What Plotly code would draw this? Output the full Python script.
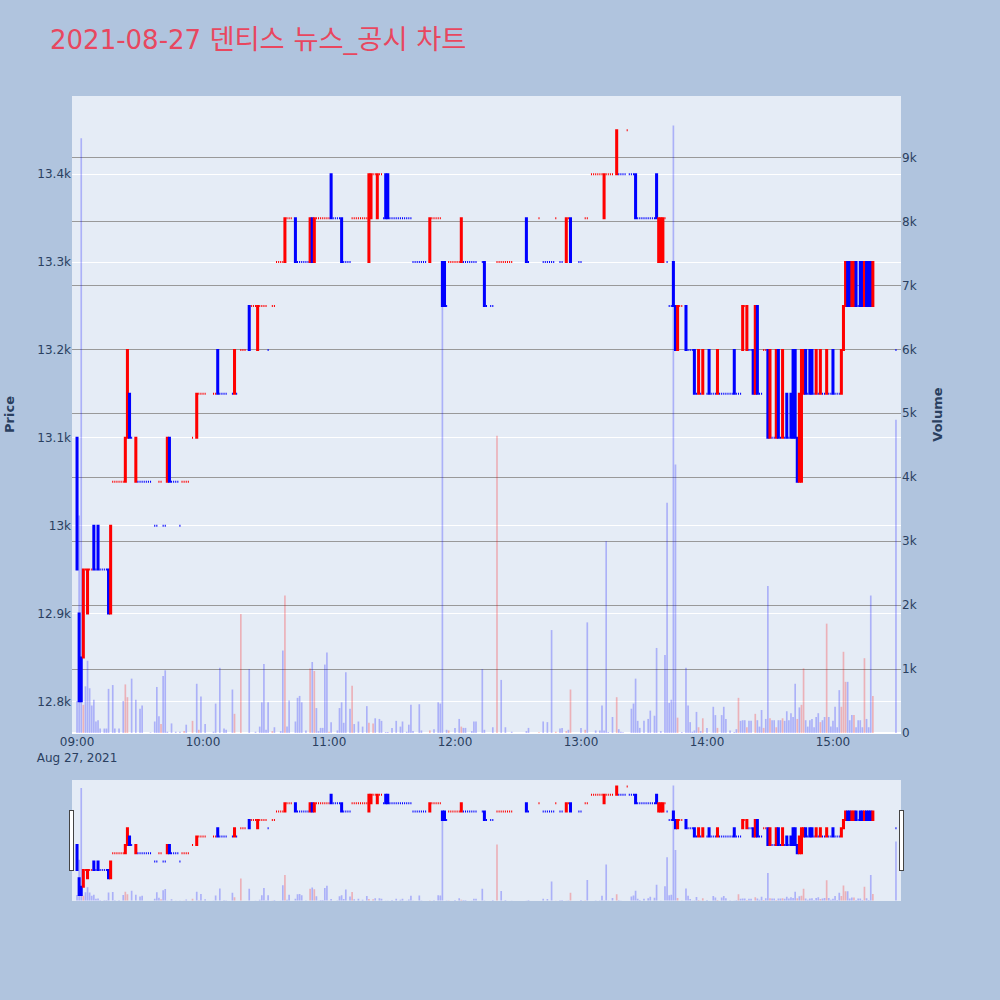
import pandas as pd
import plotly.graph_objects as go
from plotly.subplots import make_subplots

title_date = "2021-08-27"
title_name = "덴티스 뉴스_공시 차트"
session_start = "2021-08-27 09:00"
N = None

# one entry per minute from 09:00 to 15:30 (None = no trade)
open_prices = [
    13100, 12900, 12850, 12850, 12950, 12900, 12950, 12950, 13000, 12950,
    13000, 12950, 12950, 12950, 12950, 12950, 12900, 13050, 13050, 13050,
    13050, 13050, 13050, 13050, 13100, 13150, 13100, N, 13050, 13050,
    13050, 13050, 13050, 13050, 13050, 13050, N, 13000, 13000, 13050,
    13050, 13000, 13000, 13050, 13100, 13050, 13050, 13050, 13050, 13000,
    13050, 13050, 13050, 13050, N, 13100, N, 13100, 13150, 13150,
    13150, 13150, N, N, N, 13150, 13150, 13200, 13150, 13150,
    13150, 13150, N, N, 13150, 13150, 13150, N, 13200, 13200,
    13200, N, 13250, 13250, 13250, 13250, 13200, 13250, 13250, 13250,
    13250, 13200, N, 13250, 13250, 13300, 13300, 13300, 13300, 13300,
    13350, 13350, 13350, N, 13350, 13300, 13300, 13300, 13300, 13300,
    13300, 13300, 13350, 13300, 13350, 13350, 13350, 13350, 13350, 13350,
    13350, 13400, 13350, 13350, 13350, 13350, 13350, 13300, 13300, 13300,
    13300, 13350, 13350, 13350, 13350, 13350, 13350, 13350, 13350, 13300,
    13350, 13400, 13400, 13350, 13400, 13400, 13350, 13400, 13400, 13350,
    13350, 13350, 13350, 13350, 13350, 13350, 13350, 13350, 13350, 13350,
    13300, 13300, 13300, 13300, 13300, 13300, 13300, N, 13300, 13350,
    13350, 13350, 13350, 13350, 13300, 13300, 13250, 13300, 13300, 13300,
    13300, 13300, 13300, 13300, 13300, 13300, 13300, 13300, 13300, 13300,
    13300, N, N, 13300, 13300, 13250, N, 13250, 13250, N,
    13300, 13300, 13300, 13300, 13300, 13300, 13300, 13300, N, N,
    N, N, N, N, 13350, 13300, N, N, N, N,
    13350, N, 13300, 13300, 13300, 13300, 13300, 13300, 13350, N,
    13300, 13300, N, 13300, 13350, 13350, N, N, N, 13300,
    13300, N, 13350, 13350, N, 13400, 13400, 13400, 13400, 13400,
    13400, 13350, 13400, 13400, 13400, 13400, N, 13400, 13400, 13400,
    13400, 13400, 13450, 13400, 13400, 13400, 13400, 13350, 13350, 13350,
    13350, 13350, 13350, 13350, 13350, 13350, 13400, 13300, 13300, 13300,
    13350, 13300, 13250, 13250, 13300, 13250, 13200, 13250, 13250, N,
    13250, 13200, 13200, 13200, 13200, 13150, 13150, 13150, 13150, N,
    13150, 13200, 13150, 13150, 13150, 13150, 13150, 13150, 13150, 13150,
    13150, 13150, 13150, 13200, 13150, 13150, 13150, 13200, 13250, 13200,
    13200, 13200, 13200, 13150, 13250, 13150, 13150, 13200, 13200, 13200,
    13100, 13100, 13100, 13100, 13200, 13100, 13100, 13100, 13150, 13100,
    13150, 13200, 13200, 13100, 13050, 13050, 13150, 13200, 13150, 13200,
    13200, 13150, 13150, 13150, 13150, 13150, 13150, 13150, 13150, 13150,
    13200, 13150, 13150, 13150, 13150, 13200, 13250, 13300, 13300, 13250,
    13250, 13300, 13250, 13300, 13300, 13250, 13300, 13300, 13300, 13250,
    N, N, N, N, N, N, N, N, N, N,
    13200,
]

close_prices = [
    12950, 12800, 12800, 12950, 12950, 12950, 12950, 12950, 12950, 12950,
    12950, 12950, 12950, 12950, 12950, 12900, 13000, 13050, 13050, 13050,
    13050, 13050, 13050, 13100, 13200, 13100, 13100, N, 13100, 13050,
    13050, 13050, 13050, 13050, 13050, 13050, N, 13000, 13000, 13050,
    13050, 13000, 13000, 13100, 13050, 13050, 13050, 13050, 13050, 13000,
    13050, 13050, 13050, 13050, N, 13100, N, 13150, 13150, 13150,
    13150, 13150, N, N, N, 13150, 13150, 13150, 13150, 13150,
    13150, 13150, N, N, 13150, 13200, 13150, N, 13200, 13200,
    13200, N, 13200, 13250, 13250, 13250, 13250, 13250, 13250, 13250,
    13250, 13200, N, 13250, 13250, 13300, 13300, 13300, 13300, 13350,
    13350, 13350, 13350, N, 13300, 13300, 13300, 13300, 13300, 13300,
    13300, 13350, 13300, 13350, 13350, 13350, 13350, 13350, 13350, 13350,
    13350, 13350, 13350, 13350, 13350, 13350, 13300, 13300, 13300, 13300,
    13300, 13350, 13350, 13350, 13350, 13350, 13350, 13350, 13350, 13400,
    13400, 13400, 13400, 13400, 13400, 13400, 13350, 13350, 13350, 13350,
    13350, 13350, 13350, 13350, 13350, 13350, 13350, 13350, 13350, 13350,
    13300, 13300, 13300, 13300, 13300, 13300, 13300, N, 13350, 13350,
    13350, 13350, 13350, 13350, 13250, 13250, 13250, 13300, 13300, 13300,
    13300, 13300, 13300, 13350, 13300, 13300, 13300, 13300, 13300, 13300,
    13300, N, N, 13300, 13250, 13250, N, 13250, 13250, N,
    13300, 13300, 13300, 13300, 13300, 13300, 13300, 13300, N, N,
    N, N, N, N, 13300, 13300, N, N, N, N,
    13350, N, 13300, 13300, 13300, 13300, 13300, 13300, 13350, N,
    13300, 13300, N, 13350, 13350, 13300, N, N, N, 13300,
    13300, N, 13350, 13350, N, 13400, 13400, 13400, 13400, 13400,
    13400, 13400, 13400, 13400, 13400, 13400, N, 13450, 13400, 13400,
    13400, 13400, 13450, 13400, 13400, 13400, 13350, 13350, 13350, 13350,
    13350, 13350, 13350, 13350, 13350, 13350, 13350, 13350, 13350, 13350,
    13350, 13300, 13250, 13250, 13250, 13200, 13250, 13250, 13250, N,
    13200, 13200, 13200, 13200, 13150, 13150, 13200, 13150, 13200, N,
    13150, 13150, 13150, 13150, 13150, 13200, 13150, 13150, 13150, 13150,
    13150, 13150, 13150, 13150, 13150, 13150, 13150, 13250, 13250, 13250,
    13200, 13200, 13150, 13250, 13150, 13150, 13150, 13200, 13200, 13100,
    13200, 13100, 13100, 13200, 13100, 13100, 13200, 13100, 13100, 13100,
    13100, 13100, 13100, 13050, 13150, 13200, 13200, 13150, 13150, 13150,
    13150, 13150, 13200, 13150, 13200, 13150, 13150, 13200, 13150, 13150,
    13150, 13150, 13150, 13150, 13200, 13250, 13300, 13250, 13250, 13300,
    13300, 13250, 13250, 13250, 13250, 13300, 13250, 13250, 13250, 13300,
    N, N, N, N, N, N, N, N, N, N,
    13200,
]

volumes = [
    500, 3400, 9300, 440, 730, 1130, 700, 430, 520, 180,
    200, 70, 0, 70, 70, 690, 0, 750, 70, 0,
    70, 0, 500, 760, 560, 0, 850, 0, 520, 0,
    380, 430, 0, 0, 0, 10, 0, 180, 720, 260,
    140, 890, 980, 20, 0, 150, 0, 20, 0, 20,
    0, 30, 130, 0, 0, 190, 0, 770, 50, 570,
    0, 140, 0, 0, 0, 20, 460, 0, 1020, 0,
    70, 50, 0, 0, 680, 300, 0, 0, 1860, 0,
    0, 0, 1000, 0, 0, 20, 0, 100, 480, 1080,
    50, 480, 0, 30, 90, 0, 0, 30, 1290, 2150,
    100, 510, 0, 0, 180, 550, 580, 480, 0, 40,
    0, 1010, 1110, 970, 390, 30, 80, 80, 1070, 1260,
    20, 170, 0, 0, 40, 390, 480, 160, 950, 0,
    380, 740, 140, 0, 180, 0, 100, 0, 420, 160,
    0, 150, 230, 0, 220, 190, 0, 15, 15, 5,
    80, 0, 190, 0, 100, 180, 0, 20, 130, 440,
    30, 0, 0, 450, 40, 0, 0, 0, 40, 0,
    60, 0, 480, 460, 7300, 0, 50, 40, 0, 0,
    80, 0, 220, 100, 80, 80, 0, 0, 30, 180,
    180, 0, 0, 1000, 50, 0, 0, 0, 90, 0,
    4650, 0, 830, 0, 90, 0, 0, 20, 0, 0,
    0, 0, 0, 0, 30, 80, 0, 0, 0, 0,
    10, 0, 180, 0, 170, 0, 1610, 0, 20, 0,
    70, 80, 0, 30, 50, 680, 0, 0, 0, 0,
    80, 0, 50, 1730, 0, 0, 0, 40, 0, 40,
    430, 40, 3000, 15, 0, 250, 0, 560, 60, 20,
    10, 0, 0, 0, 380, 460, 850, 190, 80, 0,
    190, 0, 220, 350, 0, 270, 1330, 0, 30, 0,
    1220, 3600, 470, 520, 9500, 4200, 240, 0, 15, 0,
    1020, 430, 170, 20, 40, 330, 90, 30, 230, 0,
    80, 0, 5, 410, 280, 80, 0, 280, 410, 220,
    0, 40, 0, 15, 60, 550, 190, 200, 200, 90,
    190, 190, 0, 300, 200, 100, 360, 80, 220, 2300,
    230, 200, 200, 90, 200, 200, 230, 190, 340, 200,
    310, 250, 770, 220, 400, 440, 1010, 200, 100, 200,
    220, 90, 250, 310, 170, 200, 250, 1710, 250, 100,
    190, 410, 90, 670, 410, 1270, 800, 800, 200, 280,
    280, 90, 200, 200, 90, 1170, 220, 90, 2150, 580,
    0, 0, 0, 0, 0, 0, 0, 0, 0, 0,
    4900,
]

# minutes whose volume bar is drawn as "up" (red)
up_volume_minutes = [
    3, 23, 24, 40, 51, 55, 58, 75, 78, 93, 99, 111, 113, 120, 131, 139, 141,
    149, 168, 177, 183, 200, 220, 228, 233, 235, 242, 257, 286, 296, 298, 305,
    315, 319, 323, 327, 330, 333, 336, 343, 345, 346, 354, 357, 364, 365, 366,
    370, 375, 379,
]

times = pd.date_range(session_start, periods=len(open_prices), freq="min")
high_prices = [None if o is None else max(o, c) for o, c in zip(open_prices, close_prices)]
low_prices = [None if o is None else min(o, c) for o, c in zip(open_prices, close_prices)]
up_set = set(up_volume_minutes)
vol_colors = ["rgba(255,0,0,0.25)" if i in up_set else "rgba(0,0,255,0.25)"
              for i in range(len(volumes))]

fig = make_subplots(specs=[[{"secondary_y": True}]])
fig.add_trace(go.Candlestick(
    x=times, open=open_prices, high=high_prices, low=low_prices, close=close_prices,
    increasing=dict(line=dict(color="red"), fillcolor="red"),
    decreasing=dict(line=dict(color="blue"), fillcolor="blue"),
    name="Price", showlegend=False,
), secondary_y=False)
fig.add_trace(go.Bar(
    x=times, y=volumes, marker=dict(color=vol_colors, line=dict(width=0)),
    name="Volume", showlegend=False,
), secondary_y=True)

base_font = "DejaVu Sans, Verdana, Noto Sans CJK KR, sans-serif"
x_range = ["2021-08-27 08:57:36", "2021-08-27 15:32:24"]
title_html = f"{title_date} <span style='font-size:27.3px'>{title_name}</span>"
fig.update_layout(
    width=1000, height=1000,
    paper_bgcolor="#B0C4DE",
    margin=dict(l=72, r=99, t=96, b=100),
    title=dict(text=title_html, x=0.05, y=0.96, yanchor="middle",
               font=dict(family=base_font, size=26, color="#E8475F")),
    font=dict(family=base_font, size=12),
    xaxis=dict(domain=[0, 1], range=x_range, rangeslider=dict(visible=True, range=x_range)),
)
fig.update_yaxes(title_text="Price", title_font=dict(size=13, weight="bold"), title_standoff=19,
                 automargin=False, range=[12764, 13489], secondary_y=False)
fig.update_yaxes(title_text="Volume", title_font=dict(size=13, weight="bold"), title_standoff=17,
                 automargin=False, range=[0, 9961], gridcolor="#999999", showgrid=True,
                 secondary_y=True)

fig.write_html("out.html", config={"displayModeBar": False},
               post_script="document.body.style.margin='0';document.body.style.overflow='hidden';")
